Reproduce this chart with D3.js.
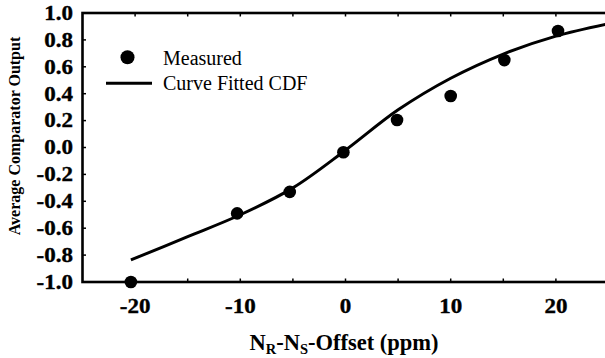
<!DOCTYPE html>
<html>
<head>
<meta charset="utf-8">
<script src="https://cdn.jsdelivr.net/npm/d3@7"></script>
<style>
  html, body { margin: 0; padding: 0; background: #fff; }
  svg { display: block; }
  text { font-family: "Liberation Serif", "Times New Roman", serif; fill: #000; }
  .tick-label { stroke: #000; stroke-width: 0.35; }
</style>
</head>
<body>
<svg id="chart" width="605" height="358"></svg>
<script>
// Measured comparator output vs. offset
const measuredX = [-20.4, -10.3, -5.3, -0.2, 4.9, 10.0, 15.1, 20.2];
const measuredY = [-1.0, -0.49, -0.33, -0.035, 0.205, 0.383, 0.65, 0.866];

// Fitted CDF curve, sampled
const fitX = [-20.4, -15, -10, -5, 0, 5, 10, 15, 20, 25];
const fitY = [-0.836, -0.663, -0.50, -0.30, -0.02, 0.28, 0.515, 0.695, 0.828, 0.92];

const xTicks = [-20, -15, -10, -5, 0, 5, 10, 15, 20];
const xTickLabels = ["-20", "", "-10", "", "0", "", "10", "", "20"];
const yTicks = [-1.0, -0.8, -0.6, -0.4, -0.2, 0.0, 0.2, 0.4, 0.6, 0.8, 1.0];

const svg = d3.select("#chart");
const plotL = 82.5, plotR = 608.5, plotT = 13, plotB = 282;

const x = d3.scaleLinear().domain([-25, 25]).range([plotL, plotR]);
const y = d3.scaleLinear().domain([-1, 1]).range([plotB, plotT]);

// Inward ticks on all four sides
const tickLen = 3.5;
const g = svg.append("g");
g.selectAll(".tb").data(xTicks).join("line")
  .attr("x1", d => x(d)).attr("x2", d => x(d))
  .attr("y1", plotB).attr("y2", plotB - tickLen)
  .attr("stroke", "#000").attr("stroke-width", 1.5);
g.selectAll(".tt").data(xTicks).join("line")
  .attr("x1", d => x(d)).attr("x2", d => x(d))
  .attr("y1", plotT).attr("y2", plotT + tickLen)
  .attr("stroke", "#000").attr("stroke-width", 1.5);
g.selectAll(".tl").data(yTicks).join("line")
  .attr("x1", plotL).attr("x2", plotL + tickLen)
  .attr("y1", d => y(d)).attr("y2", d => y(d))
  .attr("stroke", "#000").attr("stroke-width", 1.5);
g.selectAll(".tr").data(yTicks).join("line")
  .attr("x1", plotR).attr("x2", plotR - tickLen)
  .attr("y1", d => y(d)).attr("y2", d => y(d))
  .attr("stroke", "#000").attr("stroke-width", 1.5);

// Frame
svg.append("rect")
  .attr("x", plotL).attr("y", plotT)
  .attr("width", plotR - plotL).attr("height", plotB - plotT)
  .attr("fill", "none").attr("stroke", "#000").attr("stroke-width", 2.6);

// Tick labels (bold, slightly widened)
svg.selectAll(".xl").data(xTicks).join("text")
  .attr("class", "tick-label")
  .attr("transform", d => `translate(${x(d)},313) scale(1.15,1)`)
  .attr("text-anchor", "middle")
  .attr("font-weight", "bold").attr("font-size", 20)
  .text((d, i) => xTickLabels[i]);

svg.selectAll(".yl").data(yTicks).join("text")
  .attr("class", "tick-label")
  .attr("transform", d => `translate(73,${y(d) + 6.8}) scale(1.15,1)`)
  .attr("text-anchor", "end")
  .attr("font-weight", "bold").attr("font-size", 20)
  .text(d => d.toFixed(1));

// Axis titles
const xt = svg.append("text")
  .attr("x", 344).attr("y", 350)
  .attr("text-anchor", "middle")
  .attr("font-weight", "bold").attr("font-size", 22.5);
xt.append("tspan").text("N");
xt.append("tspan").attr("font-size", 14.5).attr("dy", 3.5).text("R");
xt.append("tspan").attr("dy", -3.5).text("-N");
xt.append("tspan").attr("font-size", 14.5).attr("dy", 3.5).text("S");
xt.append("tspan").attr("dy", -3.5).text("-Offset (ppm)");

svg.append("text")
  .attr("transform", "translate(20,136) rotate(-90)")
  .attr("text-anchor", "middle")
  .attr("font-weight", "bold").attr("font-size", 16)
  .text("Average Comparator Output");

// Fitted curve
const fitData = fitX.map((v, i) => [v, fitY[i]]);
svg.append("path")
  .datum(fitData)
  .attr("d", d3.line().x(d => x(d[0])).y(d => y(d[1])).curve(d3.curveCatmullRom.alpha(0.5)))
  .attr("fill", "none").attr("stroke", "#000").attr("stroke-width", 3);

// Measured points
const ptData = measuredX.map((v, i) => [v, measuredY[i]]);
svg.selectAll(".pt").data(ptData).join("circle")
  .attr("cx", d => x(d[0])).attr("cy", d => y(d[1]))
  .attr("r", 6.3).attr("fill", "#000");

// Legend
const lg = svg.append("g");
lg.append("circle").attr("cx", 127.5).attr("cy", 57.3).attr("r", 7).attr("fill", "#000");
lg.append("text").attr("x", 163).attr("y", 64.5).attr("font-size", 20).text("Measured");
lg.append("line").attr("x1", 106).attr("x2", 152).attr("y1", 83.3).attr("y2", 83.3)
  .attr("stroke", "#000").attr("stroke-width", 3);
lg.append("text").attr("x", 163).attr("y", 90).attr("font-size", 20).text("Curve Fitted CDF");
</script>
</body>
</html>
